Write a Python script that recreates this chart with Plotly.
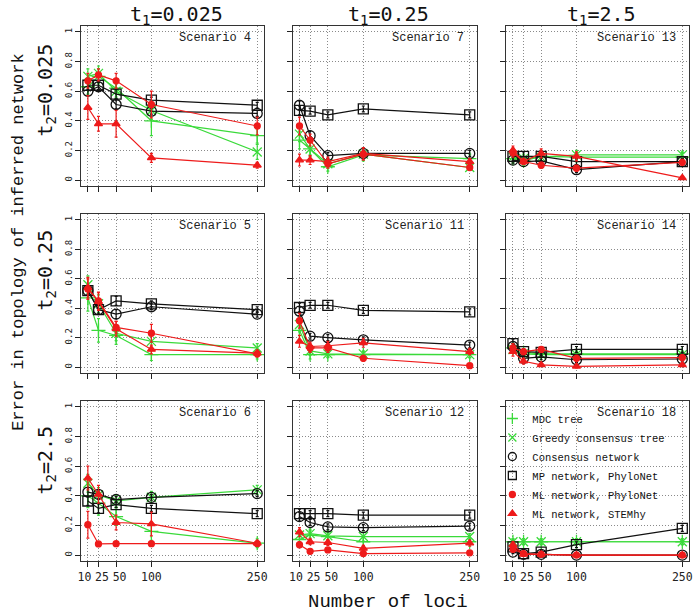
import plotly.graph_objects as go

# ---------------- data ----------------
loci = [10, 25, 50, 100, 250]
x_ticks = [10, 25, 50, 100, 250]
x_tick_text = ["10\u00a0", "\u00a025", "\u00a050", "100", "250"]
y_ticks = [0, 0.2, 0.4, 0.6, 0.8, 1]
y_tick_text = ["0", "0.2", "0.4", "0.6", "0.8", "1"]

# grid order, row by row (t2 rows x t1 columns)
scenarios = [4, 7, 13, 5, 11, 14, 6, 12, 18]
col_titles = ["t<sub>1</sub>=0.025", "t<sub>1</sub>=0.25", "t<sub>1</sub>=2.5"]
row_titles = ["t<sub>2</sub>=0.025", "t<sub>2</sub>=0.25", "t<sub>2</sub>=2.5"]

mdc_tree = {
    4: [0.63, 0.70, 0.62, 0.40, 0.30],
    7: [0.27, 0.21, 0.09, 0.17, 0.145],
    13: [0.145, 0.13, 0.16, 0.155, 0.155],
    5: [0.47, 0.25, 0.215, 0.085, 0.085],
    11: [0.25, 0.085, 0.085, 0.085, 0.085],
    14: [0.13, 0.10, 0.09, 0.09, 0.09],
    6: [0.40, 0.35, 0.26, 0.16, 0.08],
    12: [0.105, 0.135, 0.125, 0.09, 0.09],
    18: [0.09, 0.09, 0.09, 0.09, 0.09],
}
mdc_err = {
    4: [0.05, 0.05, 0.06, 0.10, 0.05],
    7: [0.06, 0.05, 0.03, 0.04, 0.03],
    13: [0.03, 0.03, 0.03, 0.03, 0.03],
    5: [0.09, 0.08, 0.06, 0.04, 0.03],
    11: [0.07, 0.03, 0.02, 0.02, 0.02],
    14: [0.03, 0.02, 0.02, 0.02, 0.02],
    6: [0.08, 0.08, 0.06, 0.06, 0.03],
    12: [0.03, 0.03, 0.03, 0.03, 0.02],
    18: [0.02, 0.02, 0.02, 0.02, 0.02],
}

greedy_tree = {
    4: [0.70, 0.72, 0.60, 0.47, 0.19],
    7: [0.31, 0.21, 0.11, 0.175, 0.085],
    13: [0.155, 0.145, 0.155, 0.17, 0.17],
    5: [0.56, 0.43, 0.23, 0.175, 0.13],
    11: [0.29, 0.11, 0.09, 0.09, 0.085],
    14: [0.12, 0.09, 0.085, 0.085, 0.085],
    6: [0.485, 0.405, 0.365, 0.39, 0.44],
    12: [0.135, 0.145, 0.13, 0.125, 0.125],
    18: [0.09, 0.09, 0.09, 0.09, 0.09],
}
greedy_err = {
    4: [0.05, 0.05, 0.05, 0.06, 0.05],
    7: [0.05, 0.04, 0.03, 0.04, 0.02],
    13: [0.03, 0.03, 0.03, 0.03, 0.02],
    5: [0.06, 0.06, 0.05, 0.04, 0.03],
    11: [0.05, 0.03, 0.02, 0.02, 0.02],
    14: [0.02, 0.02, 0.02, 0.02, 0.02],
    6: [0.06, 0.05, 0.04, 0.04, 0.03],
    12: [0.03, 0.03, 0.03, 0.03, 0.02],
    18: [0.02, 0.02, 0.02, 0.02, 0.02],
}

consensus_net = {
    4: [0.60, 0.63, 0.51, 0.465, 0.45],
    7: [0.505, 0.30, 0.165, 0.18, 0.18],
    13: [0.135, 0.125, 0.13, 0.07, 0.125],
    5: [0.52, 0.39, 0.36, 0.41, 0.36],
    11: [0.38, 0.21, 0.20, 0.185, 0.15],
    14: [0.14, 0.06, 0.07, 0.05, 0.055],
    6: [0.425, 0.41, 0.375, 0.39, 0.415],
    12: [0.26, 0.22, 0.19, 0.185, 0.195],
    18: [0.02, 0.005, 0.005, 0.0, 0.0],
}
consensus_err = {
    4: [0.03, 0.03, 0.03, 0.02, 0.02],
    7: [0.03, 0.03, 0.02, 0.02, 0.02],
    13: [0.02, 0.02, 0.02, 0.02, 0.02],
    5: [0.03, 0.03, 0.03, 0.02, 0.02],
    11: [0.03, 0.02, 0.02, 0.02, 0.02],
    14: [0.02, 0.02, 0.02, 0.02, 0.02],
    6: [0.03, 0.03, 0.02, 0.02, 0.02],
    12: [0.03, 0.02, 0.02, 0.02, 0.02],
    18: [0.01, 0.01, 0.01, 0.01, 0.01],
}

mp_net = {
    4: [0.64, 0.64, 0.58, 0.54, 0.505],
    7: [0.47, 0.465, 0.44, 0.48, 0.44],
    13: [0.16, 0.16, 0.16, 0.125, 0.125],
    5: [0.52, 0.39, 0.45, 0.43, 0.39],
    11: [0.405, 0.42, 0.42, 0.385, 0.375],
    14: [0.16, 0.105, 0.10, 0.12, 0.12],
    6: [0.365, 0.315, 0.34, 0.315, 0.28],
    12: [0.28, 0.28, 0.28, 0.27, 0.27],
    18: [0.055, 0.01, 0.02, 0.07, 0.18],
}
mp_err = {
    4: [0.03, 0.03, 0.03, 0.02, 0.02],
    7: [0.03, 0.02, 0.02, 0.02, 0.02],
    13: [0.03, 0.03, 0.03, 0.02, 0.02],
    5: [0.03, 0.03, 0.03, 0.02, 0.02],
    11: [0.03, 0.02, 0.02, 0.02, 0.02],
    14: [0.03, 0.02, 0.02, 0.02, 0.02],
    6: [0.03, 0.03, 0.02, 0.02, 0.02],
    12: [0.03, 0.02, 0.02, 0.02, 0.02],
    18: [0.02, 0.01, 0.01, 0.02, 0.02],
}

ml_phylonet = {
    4: [0.67, 0.71, 0.67, 0.51, 0.365],
    7: [0.365, 0.27, 0.11, 0.175, 0.085],
    13: [0.185, 0.125, 0.10, 0.08, 0.12],
    5: [0.53, 0.45, 0.27, 0.23, 0.09],
    11: [0.315, 0.13, 0.13, 0.06, 0.01],
    14: [0.13, 0.105, 0.12, 0.06, 0.065],
    6: [0.205, 0.075, 0.077, 0.077, 0.077],
    12: [0.07, 0.025, 0.035, 0.01, 0.015],
    18: [0.04, 0.01, 0.005, 0.0, 0.0],
}
ml_phylonet_err = {
    4: [0.05, 0.04, 0.05, 0.09, 0.06],
    7: [0.06, 0.04, 0.03, 0.04, 0.02],
    13: [0.03, 0.02, 0.02, 0.02, 0.02],
    5: [0.07, 0.06, 0.04, 0.06, 0.02],
    11: [0.05, 0.03, 0.03, 0.02, 0.01],
    14: [0.03, 0.02, 0.02, 0.02, 0.02],
    6: [0.09, 0.01, 0.01, 0.01, 0.01],
    12: [0.02, 0.01, 0.01, 0.01, 0.01],
    18: [0.02, 0.01, 0.01, 0.01, 0.01],
}

ml_stemhy = {
    4: [0.49, 0.38, 0.38, 0.15, 0.10],
    7: [0.135, 0.135, 0.125, 0.18, 0.125],
    13: [0.20, 0.125, 0.18, 0.16, 0.015],
    5: [0.54, 0.445, 0.26, 0.12, 0.095],
    11: [0.175, 0.14, 0.145, 0.165, 0.105],
    14: [0.105, 0.04, 0.015, 0.005, 0.015],
    6: [0.52, 0.41, 0.22, 0.21, 0.08],
    12: [0.155, 0.09, 0.085, 0.045, 0.08],
    18: [0.07, 0.005, 0.005, 0.0, 0.0],
}
ml_stemhy_err = {
    4: [0.08, 0.05, 0.09, 0.03, 0.02],
    7: [0.04, 0.03, 0.03, 0.04, 0.02],
    13: [0.03, 0.02, 0.03, 0.03, 0.01],
    5: [0.07, 0.06, 0.05, 0.03, 0.02],
    11: [0.04, 0.03, 0.03, 0.03, 0.02],
    14: [0.03, 0.02, 0.01, 0.01, 0.01],
    6: [0.08, 0.06, 0.05, 0.08, 0.02],
    12: [0.03, 0.02, 0.02, 0.02, 0.02],
    18: [0.02, 0.01, 0.01, 0.01, 0.01],
}

series_names = ["MDC tree", "Greedy consensus tree", "Consensus network",
                "MP network, PhyloNet", "ML network, PhyloNet", "ML network, STEMhy"]

# ---------------- styles ----------------
GREEN = "#3ada3a"
RED = "#ee1b1b"
BLACK = "#111111"
styles = [
    dict(color=GREEN, symbol="cross-thin-open", size=10),
    dict(color=GREEN, symbol="x-thin-open", size=9),
    dict(color=BLACK, symbol="circle-open", size=10),
    dict(color=BLACK, symbol="square-open", size=10),
    dict(color=RED, symbol="circle", size=6),
    dict(color=RED, symbol="triangle-up", size=7),
]
values = [mdc_tree, greedy_tree, consensus_net, mp_net, ml_phylonet, ml_stemhy]
errors = [mdc_err, greedy_err, consensus_err, mp_err, ml_phylonet_err, ml_stemhy_err]

W, H = 700, 615
col_px = [(78, 263), (292, 478), (508, 693)]
row_px = [(26, 186), (214, 373), (401, 561)]

fig = go.Figure()
MONO = "DejaVu Sans Mono"
COURIER = "Liberation Mono"
GRID = dict(showgrid=True, gridcolor="#8a8a8a", griddash="1px,2px", gridwidth=1)

for idx, scen in enumerate(scenarios):
    r, c = divmod(idx, 3)
    n = idx + 1
    xa = "x" if n == 1 else f"x{n}"
    ya = "y" if n == 1 else f"y{n}"
    for s, (st, vals, errs) in enumerate(zip(styles, values, errors)):
        fig.add_trace(go.Scatter(
            x=loci, y=vals[scen], xaxis=xa, yaxis=ya,
            mode="lines+markers",
            name=series_names[s], showlegend=False,
            line=dict(color=st["color"], width=1.2),
            marker=dict(symbol=st["symbol"], size=st["size"], color=st["color"],
                        line=dict(color=st["color"], width=1.3)),
            error_y=dict(type="data", array=errs[scen], visible=True,
                         color=st["color"], thickness=1.2, width=1.5),
        ))
    x0, x1 = col_px[c]
    y0, y1 = row_px[r]
    xkey = "xaxis" if n == 1 else f"xaxis{n}"
    ykey = "yaxis" if n == 1 else f"yaxis{n}"
    fig.layout[xkey] = dict(
        domain=[x0 / W, x1 / W], anchor=ya, range=[0.4, 259.6],
        tickvals=x_ticks, ticktext=x_tick_text,
        showticklabels=(r == 2), ticks="outside", ticklen=5, tickcolor="#222",
        tickangle=0, tickfont=dict(family=MONO, size=11.5, color="#222"),
        zeroline=False, showline=True, mirror=True, linecolor="#333", linewidth=1,
        **GRID,
    )
    fig.layout[ykey] = dict(
        domain=[1 - y1 / H, 1 - y0 / H], anchor=xa, range=[-0.04, 1.04],
        tickvals=y_ticks, ticktext=y_tick_text,
        showticklabels=(c == 0), ticks="outside", ticklen=5, tickcolor="#222",
        tickangle=-90, tickfont=dict(family=MONO, size=9, color="#222"),
        zeroline=False, showline=True, mirror=True, linecolor="#333", linewidth=1,
        **GRID,
    )
    fig.add_annotation(
        xref=f"{xa} domain", yref=f"{ya} domain", x=0.94, y=0.925,
        xanchor="right", yanchor="middle", showarrow=False,
        text=f"Scenario {scen}", font=dict(family=COURIER, size=12, color="#222"),
    )

# legend-only entries (markers only, like the reference legend)
for s, st in enumerate(styles):
    fig.add_trace(go.Scatter(
        x=[None], y=[None], xaxis="x9", yaxis="y9", mode="markers",
        name=series_names[s], showlegend=True,
        marker=dict(symbol=st["symbol"], size=min(st["size"], 8), color=st["color"],
                    line=dict(color=st["color"], width=1.3)),
    ))

# column titles
for c, t in enumerate(col_titles):
    fig.add_annotation(xref="paper", yref="paper",
                       x=(sum(col_px[c]) / 2 + 4) / W, y=1 - 15 / H,
                       text=t, showarrow=False, xanchor="center", yanchor="middle",
                       font=dict(family=MONO, size=20, color="#111"))
# row titles
row_centers = [90, 270, 460]
for r, t in enumerate(row_titles):
    fig.add_annotation(xref="paper", yref="paper",
                       x=42 / W, y=1 - row_centers[r] / H,
                       text=t, showarrow=False, textangle=-90,
                       xanchor="center", yanchor="middle",
                       font=dict(family=MONO, size=20, color="#111"))
# overall axis titles
fig.add_annotation(xref="paper", yref="paper", x=14 / W, y=1 - 242 / H,
                   text="Error in topology of inferred network", showarrow=False,
                   textangle=-90, xanchor="center", yanchor="middle",
                   font=dict(family=COURIER, size=17, color="#111"))
fig.add_annotation(xref="paper", yref="paper", x=388 / W, y=1 - 602 / H,
                   text="Number of loci", showarrow=False,
                   xanchor="center", yanchor="middle",
                   font=dict(family=COURIER, size=19, color="#111"))

fig.update_layout(
    width=W, height=H, margin=dict(l=0, r=0, t=0, b=0),
    paper_bgcolor="white", plot_bgcolor="white",
    showlegend=True,
    legend=dict(x=494 / W, y=1 - 404 / H, xanchor="left", yanchor="top",
                bgcolor="rgba(0,0,0,0)", borderwidth=0,
                font=dict(family=COURIER, size=10.5, color="#111"),
                itemwidth=30, tracegroupgap=0),
)

fig.write_html(
    "out.html",
    config={"displayModeBar": False},
    post_script="document.body.style.margin='0px';document.body.style.overflow='hidden';",
)
